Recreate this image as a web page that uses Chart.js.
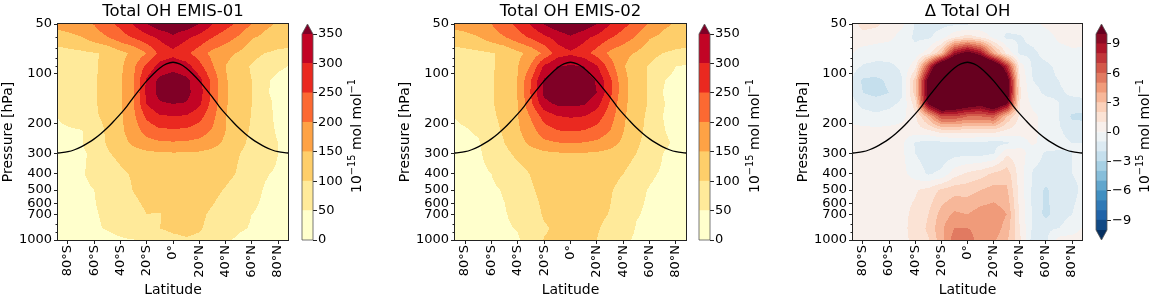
<!DOCTYPE html>
<html>
<head>
<meta charset="utf-8">
<script src="https://cdn.jsdelivr.net/npm/chart.js@4.4.1/dist/chart.umd.min.js"></script>
<style>
  html, body { margin: 0; padding: 0; background: #fff; }
  #wrap { position: relative; width: 1150px; height: 296px; overflow: hidden; }
  .box { position: absolute; top: 0; height: 296px; }
</style>
</head>
<body>
<div id="wrap">
  <div class="box" style="left:0px;width:300px"><canvas id="map1"></canvas></div>
  <div class="box" style="left:292px;width:90px"><canvas id="cb1"></canvas></div>
  <div class="box" style="left:397px;width:301px"><canvas id="map2"></canvas></div>
  <div class="box" style="left:689px;width:90px"><canvas id="cb2"></canvas></div>
  <div class="box" style="left:795px;width:299px"><canvas id="map3"></canvas></div>
  <div class="box" style="left:1086px;width:64px"><canvas id="cb3"></canvas></div>
</div>
<script>
// grid: latitude columns and pressure rows
const lats = [-90, -80, -70, -60, -50, -40, -30, -20, -10, 0, 10, 20, 30, 40, 50, 60, 70, 80, 90];
const pressures = [50, 60, 75, 90, 110, 130, 150, 180, 220, 260, 300, 400, 500, 700, 850, 1000];

// Total OH EMIS-01, one row per pressure level (10^-15 mol/mol)
const oh01 = [
  [165,175,190,202,238,262,305,350,385,395,385,350,300,268,240,198,160,145,140],
  [125,135,148,175,198,230,255,285,310,340,310,285,252,225,195,155,140,130,128],
  [80,85,90,97,105,135,160,200,265,285,262,225,185,165,145,118,100,90,85],
  [70,75,82,95,112,140,190,265,320,335,322,268,205,150,120,95,70,55,48],
  [62,68,75,95,118,145,198,310,365,375,362,320,235,155,125,100,55,42,38],
  [45,65,75,95,118,145,200,312,368,378,365,322,235,155,125,100,55,40,35],
  [50,65,75,95,118,145,198,305,345,352,348,312,232,155,125,100,60,42,38],
  [48,62,72,92,115,142,190,260,295,298,296,268,215,152,122,98,62,42,38],
  [42,45,48,62,112,140,175,220,240,242,240,225,195,150,118,95,65,45,40],
  [40,44,47,70,105,132,160,182,192,195,193,185,168,140,112,90,68,50,46],
  [38,42,46,55,95,115,130,140,145,147,146,143,135,122,102,85,68,50,44],
  [40,44,48,55,70,90,106,120,128,132,132,130,125,115,95,72,52,46,44],
  [40,43,46,50,60,80,102,118,125,128,128,125,115,96,75,58,48,45,43],
  [38,42,45,48,54,65,82,100,98,115,118,110,92,72,58,50,46,43,40],
  [36,40,44,47,52,60,72,88,100,112,115,105,85,68,54,48,44,42,40],
  [30,32,35,38,42,46,49,56,72,85,95,90,72,54,45,40,36,34,32]
];

// Total OH EMIS-02
const oh02 = [
  [165,172,185,200,235,262,305,352,385,398,385,350,300,265,235,195,160,145,140],
  [125,135,148,175,198,230,258,290,318,345,315,288,255,228,195,155,140,130,125],
  [80,85,90,97,108,138,165,210,275,292,272,230,188,165,145,118,100,90,85],
  [70,75,82,95,115,148,205,310,350,356,352,305,225,155,120,95,68,50,44],
  [62,68,75,95,120,152,250,358,382,390,378,345,262,165,125,95,52,40,36],
  [45,65,75,95,120,152,255,362,388,392,380,350,265,165,125,95,50,38,34],
  [50,65,75,95,120,150,240,335,362,365,358,320,245,162,125,95,52,40,36],
  [48,60,70,90,115,148,205,270,298,305,300,275,222,158,120,88,50,40,38],
  [42,46,55,82,108,142,180,228,248,252,248,232,200,152,115,85,52,42,40],
  [40,43,46,70,100,130,162,188,198,202,198,190,170,140,108,80,55,46,44],
  [38,42,46,60,88,112,128,140,146,150,148,144,136,122,100,75,50,44,42],
  [36,40,44,50,62,82,102,118,126,130,130,126,118,100,78,55,46,42,40],
  [36,38,42,46,52,70,95,112,120,122,122,116,105,82,58,48,42,40,38],
  [34,36,40,44,48,58,80,105,112,115,115,110,98,72,52,45,40,38,36],
  [32,34,38,42,46,52,70,95,108,112,110,104,88,65,48,42,38,36,34],
  [30,32,34,38,42,46,70,102,108,108,102,100,72,55,46,40,36,34,32]
];

// Delta Total OH
const dOH = [
  [0.5,1.3,1.2,0.6,0.2,-1.1,-1.3,-1.3,-1.2,-1.1,-0.9,-0.7,-0.6,-0.5,-0.3,0.2,0.4,0.5,0.4],
  [0.4,0.7,0.5,0.3,-0.4,-1.2,-1.2,-0.5,0.8,1.5,0.9,-0.3,-1.2,-1.1,-0.7,-0.4,0.2,0.4,0.3],
  [0.2,-0.5,-0.7,-0.8,-0.9,-0.6,0.5,3,9,11,9,4,0.8,-1.2,-1.2,-0.7,-0.4,-0.2,-0.2],
  [-0.5,-1.1,-1.2,-1.1,-0.9,0.6,7,14,16,16,16,14,8,0.6,-1.2,-1.2,-0.8,-0.5,-0.4],
  [-0.8,-2.2,-2.3,-1.8,-1.0,2.5,11,18,20,20,20,18,12,1,-1.0,-1.2,-1.0,-0.7,-0.6],
  [-0.8,-2.0,-2.3,-2.0,-1.1,2.5,11,18,20,20,20,18,12,1.2,-0.8,-1.1,-1.1,-0.9,-0.8],
  [-0.6,-1.3,-1.5,-1.3,-0.8,1.5,10.5,14,13,12,11,13,10.5,1,-0.3,-0.8,-1.0,-1.2,-1.2],
  [-0.3,-0.6,-0.8,-0.6,-0.3,0.8,3.5,7,7,6,6,6.5,3,0.8,0.3,-0.5,-1.0,-2.2,-2.3],
  [0.3,0.3,0.3,0.3,0.4,0.5,0.8,1.5,1.6,1.5,1.4,1.5,0.8,0.4,0.3,-0.4,-0.9,-1.3,-1.4],
  [0.4,0.4,0.4,0.3,0.2,-1.1,-1.4,-1.3,-1.2,-1.1,-1.2,-1.4,-1.2,-0.5,0.2,-0.5,-0.8,-1.0,-1.0],
  [0.3,0.3,0.3,0.3,0.2,-1.0,-1.5,-1.6,-1.4,-1.3,-1.4,-1.1,0.8,0.5,-0.6,-1.1,-1.1,-1.0,-0.8],
  [0.3,0.4,0.4,0.4,0.3,-0.5,-1.1,-0.8,0.6,1.2,1.6,2.2,2.6,0.5,-1.1,-1.3,-1.2,-1.0,-0.9],
  [0.4,0.5,0.6,0.6,0.8,0.9,1.3,2.2,2.6,2.6,3.0,3.4,3.2,0.6,-1.2,-2.2,-1.3,-1.1,-0.9],
  [0.4,0.5,0.6,0.7,0.8,1.2,2.0,3.4,4.2,4.0,4.5,4.6,4.0,0.8,-1.2,-2.3,-1.3,-1.0,-0.8],
  [0.3,0.4,0.5,0.6,0.8,1.3,2.2,3.8,5.0,5.0,4.8,4.6,3.6,1.0,-1.2,-1.2,-1.0,-0.6,0.3],
  [0.3,0.3,0.4,0.5,0.7,1.3,1.9,3.6,5.6,5.4,4.6,4.2,3.2,1.2,-1.5,-1.2,0.4,0.5,0.4]
];

// tropopause line (hPa)
const tropLat = [-90,-85,-80,-75,-70,-65,-60,-55,-50,-45,-40,-35,-30,-25,-20,-15,-10,-5,0,5,10,15,20,25,30,35,40,45,50,55,60,65,70,75,80,85,90];
const tropP = [300,298,294,286,275,261,246,229,211,192,174,156,138,123,110,100,92,87,85,87,92,100,110,123,138,156,174,192,211,229,246,261,275,286,294,298,300];

// contour levels and ticks
const ohLevels = [0, 50, 100, 150, 200, 250, 300, 350];
const dLevels = [-10,-9,-8,-7,-6,-5,-4,-3,-2,-1,0,1,2,3,4,5,6,7,8,9,10];
const dTicks = [-9, -6, -3, 0, 3, 6, 9];
const latTicks = [-80, -60, -40, -20, 0, 20, 40, 60, 80];
const pTicks = [50, 100, 200, 300, 400, 500, 600, 700, 1000];
const pMinor = [60, 70, 80, 90, 800, 900];

const FONT = "DejaVu Sans";
const YLORRD = ["#ffffcc","#ffeda0","#fed976","#feb24c","#fd8d3c","#fc4e2a","#e31a1c","#bd0026","#800026"];
const RDBU_R = ["#053061","#2166ac","#4393c3","#92c5de","#d1e5f0","#f7f7f7","#fddbc7","#f4a582","#d6604d","#b2182b","#67001f"];

function ramp(anchors, t) {
  const pos = t * (anchors.length - 1);
  const i = Math.min(Math.floor(pos), anchors.length - 2);
  const f = pos - i;
  const a = anchors[i], b = anchors[i + 1];
  const c = k => Math.round(parseInt(a.substr(k, 2), 16) * (1 - f) + parseInt(b.substr(k, 2), 16) * f);
  return `rgb(${c(1)},${c(3)},${c(5)})`;
}

const ohColors = ohLevels.slice(1).map((_, i) => ramp(YLORRD, i / 7));
const ohOver = ramp(YLORRD, 1);
const dColors = dLevels.slice(1).map((_, i) => ramp(RDBU_R, (i + 1) / 21));
const dUnder = ramp(RDBU_R, 0);
const dOver = ramp(RDBU_R, 1);

const logP = pressures.map(p => Math.log(p));

function sample(grid, lat, p) {
  let fi = (lat - lats[0]) / (lats[1] - lats[0]);
  fi = Math.max(0, Math.min(lats.length - 1.0001, fi));
  const i = Math.floor(fi), u = fi - i;
  const lp = Math.log(p);
  let j = 0;
  while (j < logP.length - 2 && lp > logP[j + 1]) j++;
  let v = (lp - logP[j]) / (logP[j + 1] - logP[j]);
  v = Math.max(0, Math.min(1, v));
  const a = grid[j][i] * (1 - u) + grid[j][i + 1] * u;
  const b = grid[j + 1][i] * (1 - u) + grid[j + 1][i + 1] * u;
  return a * (1 - v) + b * v;
}

function colorFor(val, levels, colors, under, over) {
  if (val < levels[0]) return under || colors[0];
  if (val >= levels[levels.length - 1]) return over;
  for (let i = 0; i < levels.length - 1; i++) {
    if (val < levels[i + 1]) return colors[i];
  }
  return over;
}

function contourPlugin(grid, levels, colors, under, over) {
  return {
    id: "contour",
    beforeDatasetsDraw(chart) {
      const { ctx, chartArea: a, scales: { x, y } } = chart;
      ctx.save();
      const left = Math.round(a.left), right = Math.round(a.right);
      for (let py = Math.round(a.top); py < a.bottom; py++) {
        const p = y.getValueForPixel(py + 0.5);
        let runStart = left, runColor = null;
        for (let px = left; px <= right; px++) {
          let col = null;
          if (px < right) col = colorFor(sample(grid, x.getValueForPixel(px + 0.5), p), levels, colors, under, over);
          if (col !== runColor) {
            if (runColor) {
              ctx.fillStyle = runColor;
              ctx.fillRect(runStart, py, px - runStart, 1);
            }
            runColor = col;
            runStart = px;
          }
        }
      }
      ctx.restore();
    }
  };
}

function panelDecor(title) {
  return {
    id: "decor",
    afterDraw(chart) {
      const { ctx, chartArea: a, scales: { y } } = chart;
      ctx.save();
      ctx.strokeStyle = "#222";
      ctx.lineWidth = 1;
      ctx.strokeRect(a.left - 0.5, a.top - 0.5, a.right - a.left + 1, a.bottom - a.top + 1);
      ctx.beginPath();
      pMinor.forEach(v => {
        const py = Math.round(y.getPixelForValue(v)) + 0.5;
        ctx.moveTo(a.left - 2.5, py);
        ctx.lineTo(a.left, py);
      });
      ctx.stroke();
      ctx.fillStyle = "#000";
      ctx.font = `16.5px "${FONT}"`;
      ctx.textAlign = "center";
      ctx.textBaseline = "alphabetic";
      ctx.fillText(title, (a.left + a.right) / 2, 16);
      ctx.restore();
    }
  };
}

function latLabel(v) {
  if (v === 0) return "0°";
  return v < 0 ? `${-v}°S` : `${v}°N`;
}

function makePanel(id, grid, levels, colors, under, over, title, rightPad) {
  return new Chart(document.getElementById(id), {
    type: "scatter",
    data: {
      datasets: [{
        type: "line",
        data: tropLat.map((lat, i) => ({ x: lat, y: tropP[i] })),
        borderColor: "#000",
        borderWidth: 1.3,
        pointRadius: 0,
        fill: false,
        cubicInterpolationMode: "monotone"
      }]
    },
    options: {
      responsive: true,
      maintainAspectRatio: false,
      animation: false,
      events: [],
      layout: { padding: { top: 24, right: rightPad, left: 0, bottom: 0 } },
      plugins: { legend: { display: false }, tooltip: { enabled: false } },
      scales: {
        x: {
          type: "linear", min: -87.6, max: 87.6,
          afterBuildTicks: s => { s.ticks = latTicks.map(v => ({ value: v })); },
          afterFit: s => { s.height = 56; },
          ticks: { callback: v => latLabel(v), minRotation: 90, maxRotation: 90, padding: 1,
                   color: "#000", font: { family: FONT, size: 13 } },
          grid: { display: true, drawOnChartArea: false, drawTicks: true, tickLength: 4, color: "#222" },
          border: { display: false },
          title: { display: true, text: "Latitude", color: "#000", font: { family: FONT, size: 14 },
                   padding: { top: 0, bottom: -3 } }
        },
        y: {
          type: "logarithmic", reverse: true, min: 50, max: 1000,
          afterBuildTicks: s => { s.ticks = pTicks.map(v => ({ value: v })); },
          afterFit: s => { s.width = 58; },
          ticks: { callback: v => String(v), padding: 2, color: "#000", font: { family: FONT, size: 13 } },
          grid: { display: true, drawOnChartArea: false, drawTicks: true, tickLength: 4, color: "#222" },
          border: { display: false },
          title: { display: true, text: "Pressure [hPa]", color: "#000", font: { family: FONT, size: 14 },
                   padding: { top: 0, bottom: 0 } }
        }
      }
    },
    plugins: [contourPlugin(grid, levels, colors, under, over), panelDecor(title)]
  });
}

// unit label drawn like mathtext: 10^{-15} mol mol^{-1}
function drawUnit(ctx, cx, cy, base) {
  const parts = [
    { t: "10", s: 14, up: 0 },
    { t: "\u221215", s: 9.8, up: 6 },
    { t: " mol mol", s: 14, up: 0 },
    { t: "\u22121", s: 9.8, up: 6 }
  ];
  let total = 0;
  parts.forEach(p => { ctx.font = `${p.s}px "${FONT}"`; p.w = ctx.measureText(p.t).width; total += p.w; });
  ctx.save();
  ctx.translate(cx + base, cy);
  ctx.rotate(-Math.PI / 2);
  ctx.fillStyle = "#000";
  ctx.textAlign = "left";
  ctx.textBaseline = "alphabetic";
  let x = -total / 2;
  parts.forEach(p => {
    ctx.font = `${p.s}px "${FONT}"`;
    ctx.fillText(p.t, x, -p.up);
    x += p.w;
  });
  ctx.restore();
}

function cbDecor(over, under, labelBase) {
  return {
    id: "cbdecor",
    afterDraw(chart) {
      const { ctx, chartArea: a } = chart;
      const mid = (a.left + a.right) / 2;
      ctx.save();
      ctx.fillStyle = over;
      ctx.beginPath();
      ctx.moveTo(a.left, a.top); ctx.lineTo(mid, a.top - 10); ctx.lineTo(a.right, a.top);
      ctx.closePath(); ctx.fill();
      if (under) {
        ctx.fillStyle = under;
        ctx.beginPath();
        ctx.moveTo(a.left, a.bottom); ctx.lineTo(mid, a.bottom + 10); ctx.lineTo(a.right, a.bottom);
        ctx.closePath(); ctx.fill();
      }
      ctx.strokeStyle = "#555";
      ctx.lineWidth = 0.8;
      ctx.beginPath();
      ctx.moveTo(a.left, a.top); ctx.lineTo(mid, a.top - 10); ctx.lineTo(a.right, a.top);
      if (under) {
        ctx.lineTo(a.right, a.bottom); ctx.lineTo(mid, a.bottom + 10); ctx.lineTo(a.left, a.bottom);
      } else {
        ctx.lineTo(a.right, a.bottom); ctx.lineTo(a.left, a.bottom);
      }
      ctx.closePath(); ctx.stroke();
      ctx.restore();
      drawUnit(ctx, a.left, 136, labelBase);
    }
  };
}

function makeColorbar(id, levels, colors, ticks, over, under, bottom, axisWidth, labelBase) {
  const datasets = colors.map((c, i) => ({
    data: [[levels[i], levels[i + 1]]],
    backgroundColor: c,
    borderWidth: 0,
    grouped: false,
    barPercentage: 1,
    categoryPercentage: 1
  }));
  return new Chart(document.getElementById(id), {
    type: "bar",
    data: { labels: [""], datasets },
    options: {
      responsive: true,
      maintainAspectRatio: false,
      animation: false,
      events: [],
      layout: { padding: { top: 34, bottom: 296 - bottom, left: 10, right: 0 } },
      plugins: { legend: { display: false }, tooltip: { enabled: false } },
      scales: {
        x: { display: false },
        y: {
          position: "right",
          min: levels[0], max: levels[levels.length - 1],
          afterBuildTicks: s => { s.ticks = ticks.map(v => ({ value: v })); },
          afterFit: s => { s.width = axisWidth; },
          ticks: { callback: v => String(v).replace("-", "\u2212"), padding: 1, color: "#000",
                   font: { family: FONT, size: 13 } },
          grid: { display: true, drawOnChartArea: false, drawTicks: true, tickLength: 4, color: "#222" },
          border: { display: false }
        }
      }
    },
    plugins: [cbDecor(over, under, labelBase)]
  });
}

makePanel("map1", oh01, ohLevels, ohColors, null, ohOver, "Total OH EMIS-01", 12);
makePanel("map2", oh02, ohLevels, ohColors, null, ohOver, "Total OH EMIS-02", 12);
makePanel("map3", dOH, dLevels, dColors, dUnder, dOver, "\u0394 Total OH", 12);
makeColorbar("cb1", ohLevels, ohColors, ohLevels, ohOver, null, 240, 69, 59);
makeColorbar("cb2", ohLevels, ohColors, ohLevels, ohOver, null, 240, 69, 60);
makeColorbar("cb3", dLevels, dColors, dTicks, dOver, dUnder, 230, 43, 53);
</script>
</body>
</html>
